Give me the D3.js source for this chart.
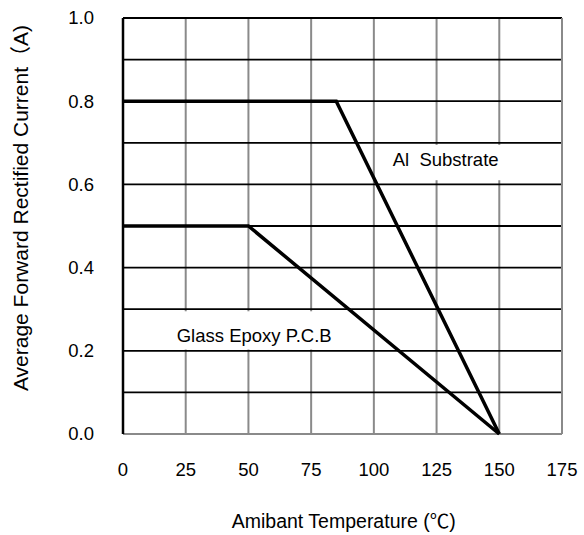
<!DOCTYPE html>
<html>
<head>
<meta charset="utf-8">
<script src="https://cdn.jsdelivr.net/npm/d3@7"></script>
<style>
  body { margin: 0; background: #fff; }
  text { font-family: "Liberation Sans", Arial, sans-serif; fill: #000; }
  .cjk { font-family: "Noto Sans CJK SC", sans-serif; }
</style>
</head>
<body>
<script>
// derating curves: ambient temperature (C) vs max rectified current (A)
var alTemp = [0, 85, 150];
var alCurrent = [0.8, 0.8, 0.0];
var glassTemp = [0, 50, 150];
var glassCurrent = [0.5, 0.5, 0.0];

var xTicks = [0, 25, 50, 75, 100, 125, 150, 175];
var yTicks = [0, 0.2, 0.4, 0.6, 0.8, 1.0];
var yGrid = [0.1, 0.2, 0.3, 0.4, 0.5, 0.6, 0.7, 0.8, 0.9, 1.0];

// titles split so the wide glyphs come from the CJK font
var xTitle = [['Amibant Temperature (', ''], ['\u2103', 'cjk'], [')', '']];
var yTitle = [['Average Forward Rectified Current', ''], ['\uff08', 'cjk'], ['A)', '']];

var margin = {top: 18, right: 22, bottom: 101, left: 123},
  width = 584 - margin.left - margin.right,
  height = 535 - margin.top - margin.bottom;

var x = d3.scaleLinear().domain([0, 175]).range([0, width]);
var y = d3.scaleLinear().domain([0, 1.0]).range([height, 0]);

var svg = d3.select('body').append('svg')
  .attr('width', 584)
  .attr('height', 535)
.append('g')
  .attr('transform', 'translate(' + margin.left + ',' + margin.top + ')');

// vertical grid (grey)
svg.selectAll('.vgrid')
  .data(xTicks.slice(1))
.enter().append('line')
  .attr('x1', function(d) { return x(d); })
  .attr('x2', function(d) { return x(d); })
  .attr('y1', 0)
  .attr('y2', height)
  .style('stroke', '#8a8a8a')
  .style('stroke-width', 2);

// bottom border (grey)
svg.append('line')
  .attr('x1', 0).attr('x2', width)
  .attr('y1', y(0)).attr('y2', y(0))
  .style('stroke', '#8a8a8a')
  .style('stroke-width', 2);

// horizontal grid (black)
svg.selectAll('.hgrid')
  .data(yGrid)
.enter().append('line')
  .attr('x1', 0)
  .attr('x2', width)
  .attr('y1', function(d) { return y(d); })
  .attr('y2', function(d) { return y(d); })
  .style('stroke', '#000')
  .style('stroke-width', 1.8);

// label boxes, placed in data units
var labels = [
  {text: 'Al\u00a0 Substrate', x0: 104.5, x1: 153, y0: 0.61, y1: 0.695, tx: 107.5, ty: 0.645, anchor: 'start'},
  {text: 'Glass Epoxy P.C.B', x0: 16, x1: 88.5, y0: 0.203, y1: 0.295, tx: 52.3, ty: 0.222, anchor: 'middle'}
];

svg.selectAll('.lbox')
  .data(labels)
.enter().append('rect')
  .attr('x', function(d) { return x(d.x0); })
  .attr('y', function(d) { return y(d.y1); })
  .attr('width', function(d) { return x(d.x1) - x(d.x0); })
  .attr('height', function(d) { return y(d.y0) - y(d.y1); })
  .style('fill', '#fff');

svg.selectAll('.ltext')
  .data(labels)
.enter().append('text')
  .attr('x', function(d) { return x(d.tx); })
  .attr('y', function(d) { return y(d.ty); })
  .style('text-anchor', function(d) { return d.anchor; })
  .style('font-size', '18.5px')
  .text(function(d) { return d.text; });

// left axis line
svg.append('line')
  .attr('x1', 0).attr('x2', 0)
  .attr('y1', 0).attr('y2', height)
  .style('stroke', '#000')
  .style('stroke-width', 2.5);

// right border
svg.append('line')
  .attr('x1', width).attr('x2', width)
  .attr('y1', 0).attr('y2', height)
  .style('stroke', '#8a8a8a')
  .style('stroke-width', 2);

// curves
var line = d3.line()
  .x(function(d) { return x(d[0]); })
  .y(function(d) { return y(d[1]); });

[d3.zip(alTemp, alCurrent), d3.zip(glassTemp, glassCurrent)].forEach(function(pts) {
  svg.append('path')
    .datum(pts)
    .attr('d', line)
    .style('fill', 'none')
    .style('stroke', '#000')
    .style('stroke-width', 3.5)
    .style('stroke-linejoin', 'miter');
});

// tick labels
svg.selectAll('.ylab')
  .data(yTicks)
.enter().append('text')
  .attr('x', -29)
  .attr('y', function(d) { return y(d); })
  .attr('dy', '0.35em')
  .style('text-anchor', 'end')
  .style('font-size', '18.5px')
  .text(function(d) { return d.toFixed(1); });

svg.selectAll('.xlab')
  .data(xTicks)
.enter().append('text')
  .attr('x', function(d) { return x(d); })
  .attr('y', height + 36)
  .attr('dy', '0.35em')
  .style('text-anchor', 'middle')
  .style('font-size', '18.5px')
  .text(function(d) { return d; });

// axis titles
var xt = svg.append('text')
  .attr('x', x(88))
  .attr('y', height + 94)
  .style('text-anchor', 'middle')
  .style('font-size', '19.5px');
xTitle.forEach(function(p) {
  xt.append('tspan').attr('class', p[1]).text(p[0]);
});

var yt = svg.append('text')
  .attr('transform', 'translate(' + (-95) + ',' + (height / 2 - 18) + ') rotate(-90)')
  .style('text-anchor', 'middle')
  .style('font-size', '21px');
yTitle.forEach(function(p) {
  yt.append('tspan').attr('class', p[1]).text(p[0]);
});
</script>
</body>
</html>
